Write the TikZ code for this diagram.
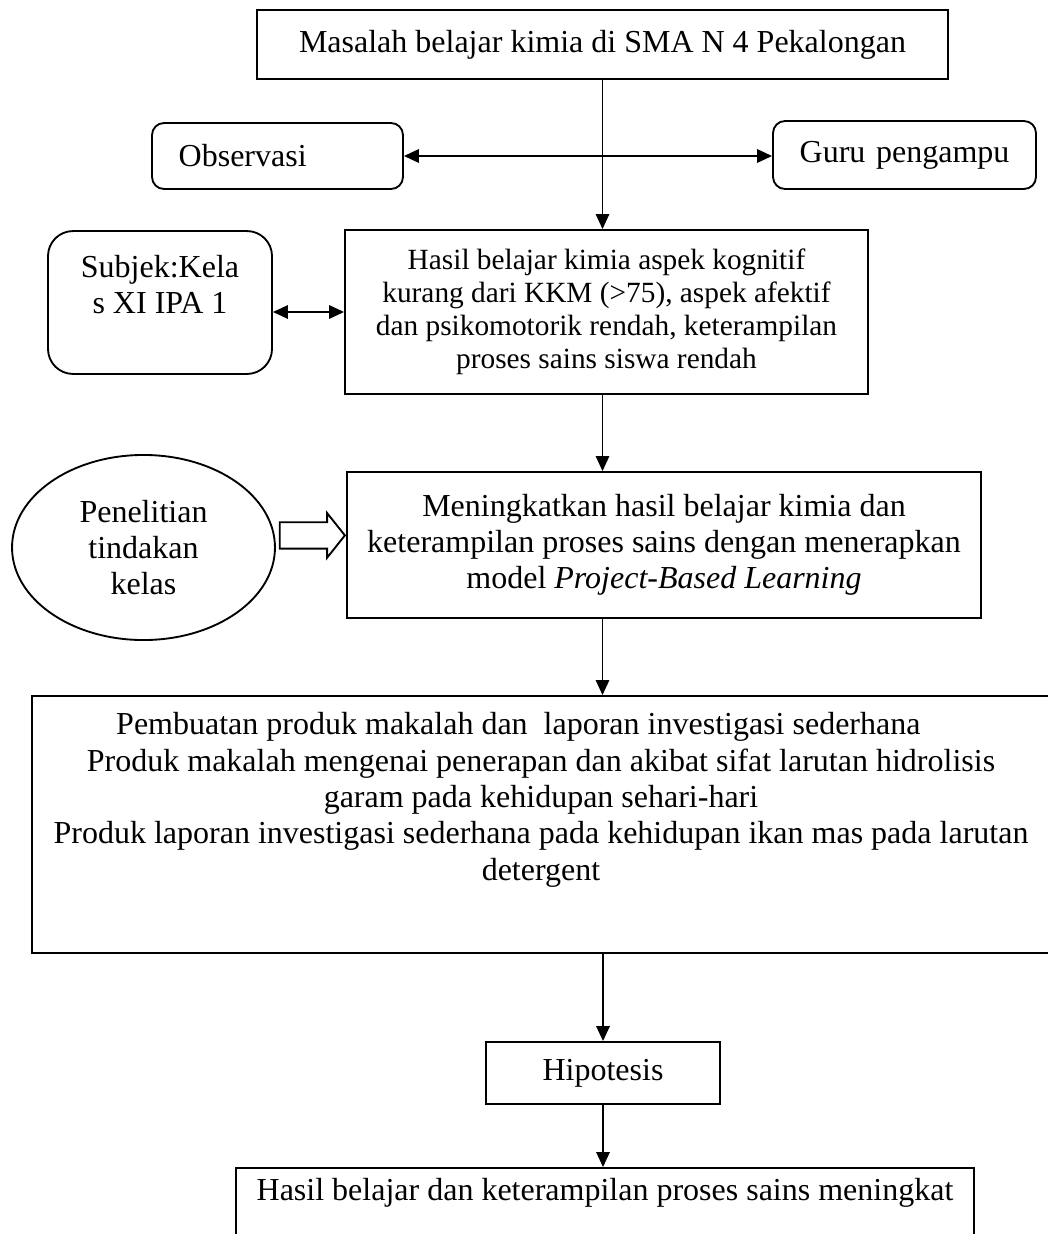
\documentclass[tikz,border=0pt]{standalone}
\usepackage{fontspec}
\setmainfont{Liberation Serif}
\usetikzlibrary{arrows.meta,shapes.geometric,shapes.arrows}

\begin{document}
\begin{tikzpicture}[x=0.375pt, y=-0.375pt, line width=0.7pt,
    kotak/.style={draw, rectangle, inner sep=0pt, align=center, font=\fontsize{12pt}{13.6pt}\selectfont},
    bulat/.style={kotak, rounded corners=4.5pt, align=left, inner xsep=2pt, execute at begin node=\hspace*{8pt}},
    >={Triangle[length=5.6pt, width=5pt]}]
  \useasboundingbox (0,0) rectangle (1048,1234);
  \clip (0,0) rectangle (1048,1234);

  \node[kotak, minimum width=259.1pt, minimum height=25.9pt] (Mas) at (602.5,44.5) {Masalah belajar kimia di SMA N 4 Pekalongan};
  \node[bulat, minimum height=24.75pt, text width=90.1pt] (Obs) at (277.5,156) {Observasi};
  \node[bulat, minimum height=25.5pt, text width=94.6pt] (Guru) at (904.5,155) {Guru pengampu};
  \node[kotak, minimum width=196.1pt, minimum height=61.5pt, font=\fontsize{11pt}{12.4pt}\selectfont] (Has) at (606.5,312) {Hasil belajar kimia aspek kognitif\\kurang dari KKM (>75), aspek afektif\\dan psikomotorik rendah, keterampilan\\proses sains siswa rendah};
  \node[kotak, rounded corners=9.4pt, minimum width=84pt, minimum height=53.6pt] (Sub) at (160,302.5) {Subjek:Kela\\s XI IPA 1\\\mbox{}};
  \node[kotak, minimum width=237.75pt, minimum height=54.75pt] (Men) at (664,545) {Meningkatkan hasil belajar kimia dan\\keterampilan proses sains dengan menerapkan\\model \textit{Project-Based Learning}};
  \node[kotak, ellipse, minimum width=98.6pt, minimum height=69.4pt] (Pen) at (143.5,547.5) {Penelitian\\tindakan\\kelas};
  \node[draw, single arrow, fill=white, inner sep=0pt, text height=4.6pt, text depth=4.6pt, minimum height=24.4pt, single arrow head extend=3.4pt, single arrow tip angle=103, anchor=tip] (Pnh) at ([yshift=3.6pt]Men.west) {};
  \node[kotak, minimum width=381.75pt, minimum height=96.4pt] (Pro) at (541,824.5) {Pembuatan produk makalah dan~ laporan investigasi sederhana\hspace*{17pt}\\Produk makalah mengenai penerapan dan akibat sifat larutan hidrolisis\\garam pada kehidupan sehari-hari\\Produk laporan investigasi sederhana pada kehidupan ikan mas pada larutan\\detergent\\[7.5pt]\mbox{}};
  \node[kotak, minimum width=88pt, minimum height=23.25pt] (Hip) at (603,1073) {Hipotesis};
  \node[kotak, minimum width=276.75pt, minimum height=49.5pt] (Akh) at (605,1234) {Hasil belajar dan keterampilan proses sains meningkat\\[20pt]\mbox{}};

  \draw[->] (Mas.south) to (Mas.south |- Has.north);
  \draw[<->] (Obs.east) to (Obs.east -| Guru.west);
  \draw[<->] (Has.west -| Sub.east) to (Has.west);
  \draw[->] (Mas.south |- Has.south) to (Mas.south |- Men.north);
  \draw[->] (Mas.south |- Men.south) to (Mas.south |- Pro.north);
  \draw[->] (Hip.north |- Pro.south) to (Hip.north);
  \draw[->] (Hip.south) to (Hip.south |- Akh.north);
\end{tikzpicture}
\end{document}
